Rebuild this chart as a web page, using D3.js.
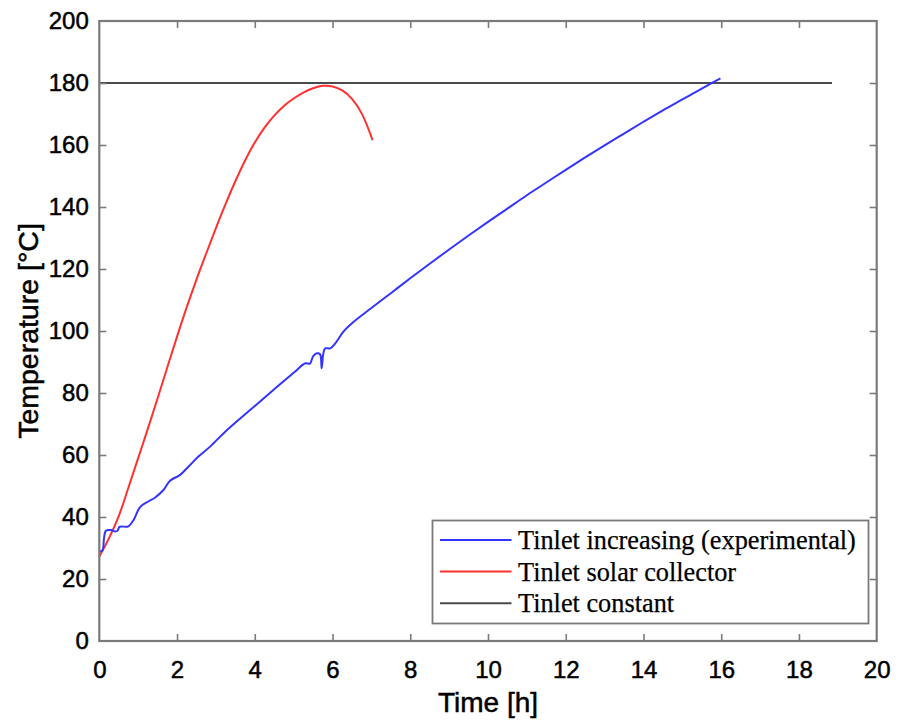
<!DOCTYPE html>
<html>
<head>
<meta charset="utf-8">
<script src="https://cdn.jsdelivr.net/npm/d3@7/dist/d3.min.js"></script>
<style>
  html, body { margin: 0; padding: 0; background: #fff; }
  svg { display: block; }
</style>
</head>
<body>
<svg id="chart" width="902" height="721"></svg>
<script>
// Inlet temperature over time for three operating cases
const xTicks = [0, 2, 4, 6, 8, 10, 12, 14, 16, 18, 20];
const yTicks = [0, 20, 40, 60, 80, 100, 120, 140, 160, 180, 200];

// Measured inlet temperature (time h, temperature °C)
const increasingTime = [0, 0.08, 0.12, 0.17, 0.3, 0.42, 0.47, 0.52, 0.75, 0.88, 1.05, 1.26, 1.43, 1.65, 1.82, 2.08, 2.29, 2.55, 2.85, 3.24, 3.88, 4.5, 5.0, 5.3, 5.42, 5.5, 5.6, 5.68, 5.72, 5.76, 5.81, 5.94, 6.07, 6.28, 6.5, 7.0, 7.5, 8.0, 8.5, 9.0, 9.5, 10.0, 10.5, 11.0, 11.5, 12.0, 12.5, 13.0, 13.5, 14.0, 14.5, 15.0, 15.5, 15.98];
const increasingTemp = [29, 29.2, 33, 35.6, 35.8, 35.3, 35.6, 36.8, 37, 39, 43.2, 45, 46.2, 48.7, 51.7, 53.6, 56.2, 59.5, 62.7, 67.5, 74.5, 81.2, 86.5, 89.6, 89.5, 91.8, 92.8, 92.5, 88, 92.5, 94.4, 94.4, 96, 99.8, 102.5, 107.4, 112.2, 117, 121.7, 126.3, 130.8, 135.2, 139.5, 143.8, 147.9, 152, 156, 159.9, 163.7, 167.5, 171.2, 174.7, 178.2, 181.5];

// Solar collector outlet used as inlet
const solarTime = [0, 0.25, 0.5, 0.75, 1.0, 1.25, 1.5, 1.75, 2.0, 2.25, 2.5, 2.75, 3.0, 3.25, 3.5, 3.75, 4.0, 4.25, 4.5, 4.75, 5.0, 5.25, 5.5, 5.75, 6.0, 6.25, 6.5, 6.75, 7.03];
const solarTemp = [27.2, 33.2, 40.3, 49.5, 59, 68.5, 78.3, 88.3, 98.2, 107.7, 116.6, 125, 133.2, 141, 148.3, 155, 160.8, 165.6, 169.5, 172.6, 175, 176.9, 178.3, 179.1, 178.9, 177.6, 174.9, 170.2, 161.6];

// Constant inlet temperature
const constantTime = [0, 18.85];
const constantTemp = [180, 180];

const legendLabels = ["Tinlet increasing (experimental)", "Tinlet solar collector", "Tinlet constant"];
const seriesColors = ["#3434ff", "#ff3030", "#4a4a4a"];

const svg = d3.select("#chart");
const plotLeft = 99.3, plotRight = 876.7, plotTop = 21, plotBottom = 641;

const x = d3.scaleLinear().domain([0, 20]).range([plotLeft, plotRight]);
const y = d3.scaleLinear().domain([0, 200]).range([plotBottom, plotTop]);

const axisColor = "#7a7a7a";
const tickFont = "'Liberation Sans', Arial, sans-serif";

// Series
const line = d3.line().x(d => x(d[0])).y(d => y(d[1]));
const smooth = d3.line().x(d => x(d[0])).y(d => y(d[1])).curve(d3.curveCatmullRom.alpha(0.5));

const plot = svg.append("g");
plot.append("path")
  .datum(constantTime.map((t, i) => [t, constantTemp[i]]))
  .attr("d", line).attr("fill", "none")
  .attr("stroke", seriesColors[2]).attr("stroke-width", 2.2);
plot.append("path")
  .datum(solarTime.map((t, i) => [t, solarTemp[i]]))
  .attr("d", smooth).attr("fill", "none")
  .attr("stroke", seriesColors[1]).attr("stroke-width", 2);
plot.append("path")
  .datum(increasingTime.map((t, i) => [t, increasingTemp[i]]))
  .attr("d", smooth).attr("fill", "none")
  .attr("stroke", seriesColors[0]).attr("stroke-width", 2);

// Box axes with inward ticks on all four sides
function styleAxis(g) {
  g.selectAll(".domain").remove();
  g.selectAll(".tick line").attr("stroke", axisColor).attr("stroke-width", 1.6);
  g.selectAll("text").attr("fill", "#000").attr("stroke", "#000").attr("stroke-width", 0.5)
    .attr("font-family", tickFont).attr("font-size", 24);
}
const bottomAxis = svg.append("g").attr("transform", `translate(0,${plotBottom})`)
  .call(d3.axisBottom(x).tickValues(xTicks).tickSizeInner(-7).tickSizeOuter(0).tickPadding(20));
styleAxis(bottomAxis);
bottomAxis.selectAll(".tick").filter(d => d === 0 || d === 20).select("line").remove();

const topAxis = svg.append("g").attr("transform", `translate(0,${plotTop})`)
  .call(d3.axisTop(x).tickValues(xTicks).tickSizeInner(-7).tickSizeOuter(0).tickFormat(""));
styleAxis(topAxis);
topAxis.selectAll(".tick").filter(d => d === 0 || d === 20).select("line").remove();

const leftAxis = svg.append("g").attr("transform", `translate(${plotLeft},0)`)
  .call(d3.axisLeft(y).tickValues(yTicks).tickSizeInner(-7).tickSizeOuter(0).tickPadding(10.5));
styleAxis(leftAxis);
leftAxis.selectAll(".tick").filter(d => d === 0 || d === 200).select("line").remove();

const rightAxis = svg.append("g").attr("transform", `translate(${plotRight},0)`)
  .call(d3.axisRight(y).tickValues(yTicks).tickSizeInner(-7).tickSizeOuter(0).tickFormat(""));
styleAxis(rightAxis);
rightAxis.selectAll(".tick").filter(d => d === 0 || d === 200).select("line").remove();

svg.append("rect")
  .attr("x", plotLeft).attr("y", plotTop)
  .attr("width", plotRight - plotLeft).attr("height", plotBottom - plotTop)
  .attr("fill", "none").attr("stroke", axisColor).attr("stroke-width", 2.2);

// Axis titles
svg.append("text")
  .attr("x", (plotLeft + plotRight) / 2).attr("y", 712)
  .attr("text-anchor", "middle")
  .attr("font-family", tickFont).attr("font-size", 28)
  .attr("stroke", "#000").attr("stroke-width", 0.5)
  .text("Time [h]");
svg.append("text")
  .attr("transform", `translate(38,${(plotTop + plotBottom) / 2}) rotate(-90)`)
  .attr("text-anchor", "middle")
  .attr("font-family", tickFont).attr("font-size", 28.5)
  .attr("stroke", "#000").attr("stroke-width", 0.5)
  .text("Temperature [°C]");

// Legend
const legend = svg.append("g");
legend.append("rect")
  .attr("x", 432.5).attr("y", 520.5).attr("width", 436).attr("height", 103)
  .attr("fill", "#fff").attr("stroke", axisColor).attr("stroke-width", 1.8);
legendLabels.forEach((label, i) => {
  const cy = 540 + i * 31.6;
  legend.append("line")
    .attr("x1", 440).attr("x2", 511.5).attr("y1", cy).attr("y2", cy)
    .attr("stroke", seriesColors[i]).attr("stroke-width", 2);
  legend.append("text")
    .attr("x", 518).attr("y", cy + 9)
    .attr("font-family", "'Liberation Serif', 'Times New Roman', serif")
    .attr("font-size", 26.3)
    .attr("stroke", "#000").attr("stroke-width", 0.25)
    .text(label);
});
</script>
</body>
</html>
